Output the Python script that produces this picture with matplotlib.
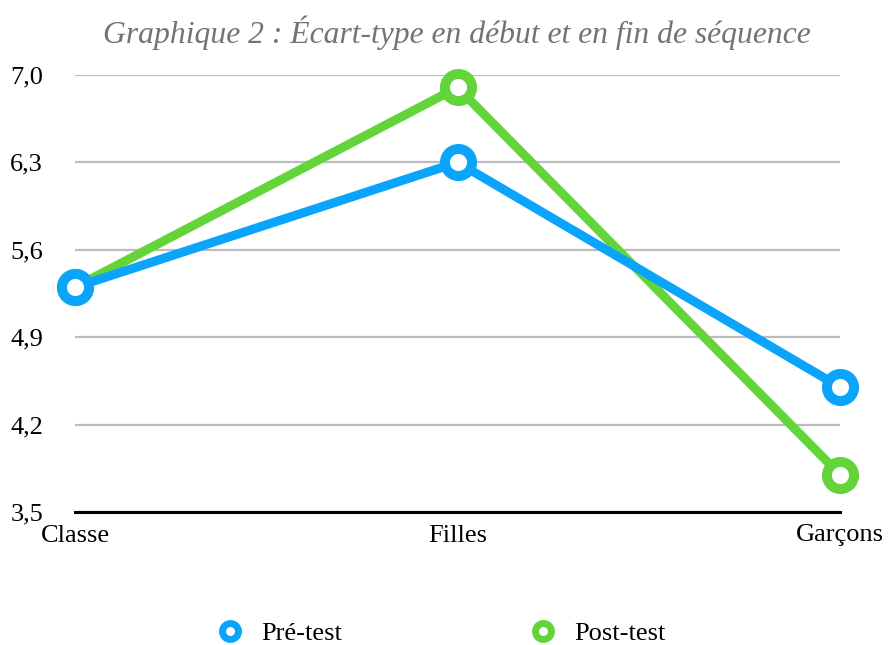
# Graphique 2 : écart-type pré-test / post-test

import matplotlib.pyplot as plt
from matplotlib.lines import Line2D

categories = ["Classe", "Filles", "Garçons"]
pre_test = [5.3, 6.3, 4.5]
post_test = [5.3, 6.9, 3.8]
yticks = [3.5, 4.2, 4.9, 5.6, 6.3, 7.0]

BLUE = "#0aa5fb"
GREEN = "#63d53a"

plt.rcParams["font.family"] = ["Liberation Serif", "DejaVu Serif"]

fig = plt.figure(figsize=(8.88, 6.45), dpi=100)
ax = fig.add_axes([75 / 888, 1 - 512 / 645, (840 - 75) / 888, (512 - 75) / 645])

x = range(len(categories))
style = dict(lw=6.5, marker="o", ms=19.5, mew=7.2, mfc="white",
             solid_capstyle="butt", clip_on=False)
ax.plot(x, post_test, color=GREEN, zorder=3, **style)
ax.plot(x, pre_test, color=BLUE, zorder=4, **style)

ax.set_xlim(0, len(categories) - 1)
ax.set_ylim(yticks[0], yticks[-1])
ax.set_yticks(yticks)
ax.set_yticklabels([f"{v:.1f}".replace(".", ",") for v in yticks], fontsize=19)
ax.set_xticks(list(x))
ax.set_xticklabels(categories, fontsize=19)
ax.tick_params(axis="x", length=0, pad=9)
ax.tick_params(axis="y", length=0, pad=23)
ax.yaxis.grid(True, color="#bdbdbd", lw=1.6)
ax.set_axisbelow(True)
for s in ["top", "right", "left"]:
    ax.spines[s].set_visible(False)
ax.spines["bottom"].set_linewidth(2.2)
ax.spines["bottom"].set_zorder(2)

fig.text(457 / 888, 1 - 33 / 645, "Graphique 2 : Écart-type en début et en fin de séquence",
         ha="center", va="center", fontsize=22.8, style="italic", color="#737373")

handles = [Line2D([], [], ls="none", marker="o", ms=11.5, mew=5, mfc="white", color=BLUE),
           Line2D([], [], ls="none", marker="o", ms=11.5, mew=5, mfc="white", color=GREEN)]
fig.legend(handles, ["Pré-test", "Post-test"], loc="center", ncol=2,
           bbox_to_anchor=(440 / 888, 1 - 633 / 645), frameon=False, fontsize=19,
           columnspacing=7.0, handletextpad=0.6, handlelength=1.2)

fig.savefig("out.png", dpi=100)
